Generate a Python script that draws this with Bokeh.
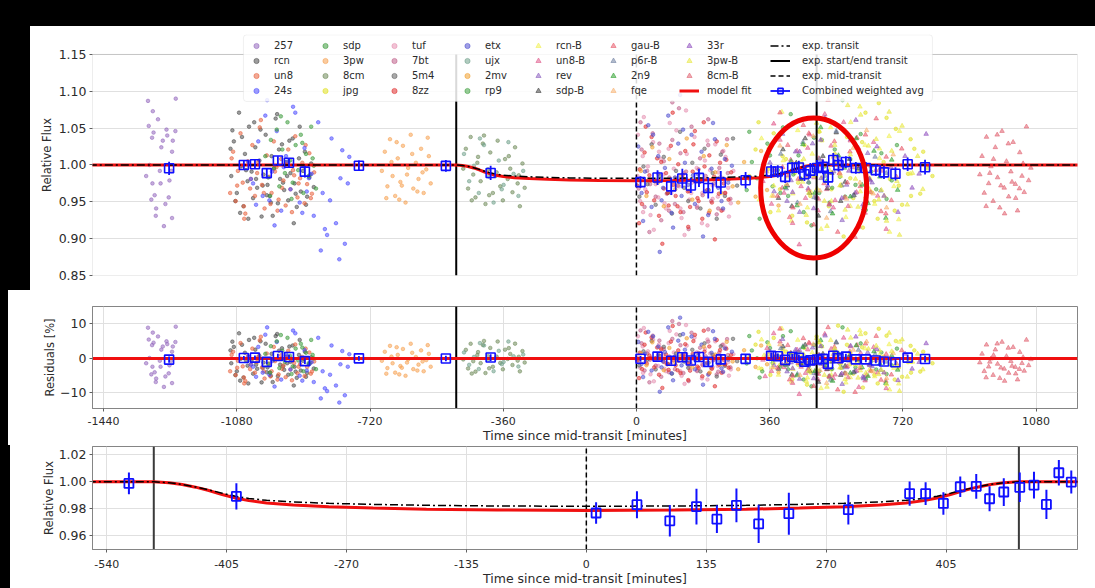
import numpy as np
from bokeh.plotting import figure
from bokeh.models import (Range1d, Legend, LegendItem, FixedTicker, NumeralTickFormatter,
                          BoxAnnotation)
from bokeh.layouts import column
from bokeh.embed import file_html
from bokeh.resources import INLINE

# ------------------------------------------------------------------ data
# individual observations: time since mid-transit [min], relative flux
t_257 = [-1320, -1245, -1307, -1293, -1318, -1270, -1246, -1305, -1309, -1280, -1253, -1284, -1255, -1325, -1308, -1286, -1262, -1257, -1302, -1311, -1264, -1273, -1298, -1299, -1255, -1277, -1288, -1268, -1316]
f_257 = [1.087, 1.090, 1.073, 1.062, 1.053, 1.048, 1.046, 1.044, 1.037, 1.033, 1.033, 1.024, 1.018, 0.985, 0.975, 0.975, 0.979, 0.992, 0.959, 0.953, 0.956, 0.947, 0.941, 0.931, 0.928, 0.917, 0.992, 1.040, 1.000]

t_rcn = [-1095, -1088, -1080, -1074, -1069, -1062, -1058, -1051, -1047, -1040, -1036, -1030, -1025, -1019, -1013, -1008, -1002, -997, -991, -986, -980, -975, -969, -963, -958, -952, -946, -941, -935, -929, -924, -918, -912, -907, -901, -896, -890, -884, -879, -872, -1092, -1071, -1055, -1033, -1010, -988, -966, -944, -921, -899,
         -1097, -1084, -1066, -1049, -1028, -1016, -999, -983, -971, -955, -938, -926, -910, -893, -881]
f_rcn = [0.985, 1.032, 0.962, 1.071, 0.998, 0.944, 1.015, 0.978, 1.052, 0.991, 0.955, 1.024, 0.969, 1.006, 0.930, 0.987, 1.041, 0.973, 0.958, 1.012, 0.995, 1.063, 0.948, 0.981, 1.028, 0.966, 1.004, 0.952, 0.989, 1.036, 0.975, 0.943, 1.009, 0.964, 0.992, 1.018, 0.957, 0.983, 1.002, 0.970, 1.047, 0.935, 0.993, 1.058, 0.972, 0.949, 1.021, 0.985, 0.961, 0.998,
         1.022, 0.951, 1.038, 0.927, 0.981, 1.048, 0.959, 0.931, 1.069, 0.976, 1.033, 0.921, 1.052, 0.946, 0.987]

t_un8 = [-1098, -1090, -1083, -1077, -1070, -1064, -1057, -1050, -1044, -1038, -1031, -1025, -1018, -1012, -1005, -999, -993, -986, -980, -973, -967, -960, -954, -948, -941, -935, -928, -922, -916, -909, -903, -897, -890, -884, -877, -871, -1060, -1015, -970, -925,
         -1094, -1079, -1061, -1042, -1022, -1007, -989, -977, -958, -944, -931, -913, -894, -880]
f_un8 = [0.962, 1.018, 0.951, 0.992, 1.043, 0.976, 0.934, 1.005, 0.968, 1.027, 0.958, 0.989, 1.051, 0.973, 0.941, 1.013, 0.984, 0.962, 1.032, 0.997, 0.953, 1.008, 0.979, 0.945, 1.021, 0.967, 0.993, 1.039, 0.956, 0.982, 1.003, 0.948, 0.974, 1.016, 0.961, 0.990, 0.927, 1.061, 0.938, 0.986,
         1.009, 0.972, 0.944, 0.981, 1.004, 0.962, 0.947, 0.991, 0.969, 1.002, 0.936, 0.975, 1.027, 0.955]

t_24s = [-1048, -1036, -1022, -1010, -998, -985, -972, -960, -947, -935, -922, -910, -897, -885, -872, -860, -848, -836, -824, -812, -800, -788, -776, -1028, -1003, -978, -953, -928, -903, -878, -853, -828, -803, -780, -1042, -992, -941, -891, -842, -795]
f_24s = [1.004, 0.975, 1.032, 0.958, 1.088, 0.991, 1.046, 0.938, 1.012, 0.967, 1.071, 0.949, 1.023, 0.982, 0.931, 1.058, 0.962, 0.905, 1.036, 0.921, 0.982, 0.893, 1.011, 0.946, 1.067, 0.918, 0.997, 1.079, 0.935, 0.988, 0.884, 0.952, 0.872, 0.975, 0.981, 0.952, 1.005, 0.964, 0.913, 1.020]

t_sdp = [-1003, -995, -988, -979, -972, -965, -957, -950, -943, -936, -929, -921, -914, -907, -900, -893, -886, -879, -872, -866, -961, -932, -903, -875, -990]
f_sdp = [1.012, 0.983, 1.034, 0.996, 1.048, 0.971, 1.021, 0.989, 1.058, 1.006, 0.976, 1.027, 0.993, 1.041, 0.962, 1.015, 0.985, 1.052, 0.999, 0.968, 1.066, 0.954, 1.030, 1.009, 0.958]

t_3pw = [-688, -680, -673, -666, -659, -652, -645, -638, -631, -624, -617, -610, -603, -596, -589, -582, -575, -568, -561, -556, -676, -648, -620, -592, -564, -662, -634, -606, -578, -641]
f_3pw = [0.992, 1.018, 0.971, 1.035, 0.985, 0.958, 1.009, 0.977, 1.026, 0.949, 0.996, 1.041, 0.968, 1.003, 0.981, 1.022, 0.962, 0.994, 1.012, 0.975, 0.955, 1.031, 0.987, 0.964, 1.037, 1.004, 0.972, 1.015, 0.990, 0.953]

t_8cm = [-468, -461, -455, -448, -441, -435, -428, -421, -415, -408, -401, -395, -388, -381, -375, -368, -361, -355, -348, -341, -335, -328, -321, -315, -308, -302, -445, -412, -378, -345, -318, -430, -398]
f_8cm = [0.995, 1.022, 0.968, 1.038, 0.987, 0.956, 1.011, 0.978, 1.029, 0.947, 0.994, 1.017, 0.962, 0.985, 1.033, 0.971, 0.952, 1.008, 0.981, 0.995, 0.963, 1.024, 0.975, 0.944, 1.002, 0.969, 0.952, 1.040, 0.990, 1.012, 0.986, 1.003, 0.959]

t_jpg = [305, 322, 338, 355, 371, 388, 404, 421, 437, 454, 470, 487, 503, 520, 536, 553, 569, 586, 602, 619, 635, 652, 668, 685, 701, 718, 734, 751, 767, 784, 612, 655, 698, 741, 560,
         330, 362, 395, 428, 461, 494, 527, 545, 578, 610, 643, 676, 709, 742, 775, 800]
f_jpg = [0.985, 1.021, 0.952, 0.994, 1.043, 0.967, 1.008, 0.931, 0.976, 1.027, 0.958, 1.062, 0.983, 0.944, 1.015, 0.972, 1.038, 0.955, 0.991, 1.071, 0.963, 0.927, 1.004, 0.981, 1.049, 0.946, 0.988, 1.022, 0.961, 0.997, 0.915, 1.084, 0.938, 1.035, 0.903,
         1.058, 0.936, 1.012, 0.989, 0.922, 1.045, 0.967, 1.093, 0.982, 1.031, 0.951, 1.064, 0.972, 0.958, 1.018, 0.985]

t_tuf = [3, 10, 17, 24, 31, 38, 45, 52, 59, 66, 73, 80, 87, 94, 101, 108, 115, 122, 129, 136, 143, 150, 157, 164, 171, 178, 185, 192, 199, 206, 213, 220, 227, 234, 241, 248, 255, 262, 20, 130,
         4, 18, 33, 47, 61, 76, 90, 105, 119, 134, 148, 163, 177, 192, 206, 221, 235, 250]
f_tuf = [0.985, 0.951, 1.012, 0.967, 0.998, 0.932, 1.031, 0.974, 0.956, 1.008, 0.987, 0.941, 1.022, 0.962, 0.995, 1.047, 0.971, 0.928, 0.989, 1.015, 0.953, 0.976, 1.038, 0.944, 0.981, 0.962, 1.006, 0.918, 0.993, 0.972, 1.028, 0.957, 0.984, 0.939, 1.011, 0.969, 0.948, 0.992, 1.065, 0.905,
         1.041, 0.936, 0.979, 0.912, 1.018, 0.948, 1.057, 0.983, 0.941, 1.074, 0.962, 0.996, 0.921, 1.033, 0.954, 0.990, 1.019, 0.930]

t_7bt = [6, 14, 22, 29, 37, 44, 52, 59, 67, 74, 82, 89, 97, 104, 112, 119, 127, 134, 142, 149, 157, 164, 172, 179, 187, 194, 202, 209, 217, 224, 232, 239, 247, 254, 97,
         11, 35, 62, 88, 115, 141, 168, 194, 221, 245]
f_7bt = [0.968, 1.021, 0.943, 0.992, 0.974, 1.043, 0.957, 0.988, 0.925, 1.005, 0.961, 0.983, 1.034, 0.947, 0.972, 1.016, 0.936, 0.991, 0.965, 1.052, 0.978, 0.942, 1.009, 0.959, 0.985, 1.027, 0.951, 0.975, 0.933, 0.996, 1.018, 0.962, 0.989, 0.954, 1.085,
         1.058, 0.909, 1.029, 0.938, 1.077, 0.913, 0.994, 1.062, 0.941, 1.035]

t_5m4 = [8, 19, 30, 41, 52, 63, 74, 85, 96, 107, 118, 129, 140, 151, 162, 173, 184, 195, 206, 217, 228, 239, 250, 261, 272]
f_5m4 = [0.957, 0.998, 0.974, 1.028, 0.946, 0.985, 1.011, 0.962, 0.934, 0.992, 1.045, 0.969, 0.951, 1.003, 0.978, 0.941, 1.022, 0.966, 0.989, 0.927, 1.014, 0.958, 0.981, 1.036, 0.972]

t_8zz = [2, 9, 15, 22, 28, 35, 41, 48, 54, 61, 67, 74, 80, 87, 93, 100, 106, 113, 119, 126, 132, 139, 145, 152, 158, 165, 171, 178, 184, 191, 197, 204, 210, 217, 223, 230, 236, 243, 249, 256,
         7, 25, 39, 56, 70, 84, 98, 111, 125, 140, 154, 168, 182, 196, 212, 226, 240]
f_8zz = [0.972, 0.994, 0.947, 1.017, 0.963, 0.986, 1.038, 0.952, 0.979, 0.931, 1.004, 0.968, 0.989, 0.945, 1.026, 0.973, 0.958, 1.001, 0.936, 0.982, 1.019, 0.964, 0.943, 0.991, 1.046, 0.955, 0.977, 0.927, 0.998, 0.966, 1.013, 0.949, 0.984, 1.032, 0.961, 0.938, 0.975, 1.007, 0.953, 0.990,
         0.921, 1.052, 0.979, 1.009, 0.893, 0.962, 1.071, 0.944, 0.987, 0.916, 1.028, 0.951, 1.058, 0.935, 0.899, 1.003, 0.962]

t_etx = [5, 14, 23, 32, 41, 50, 59, 68, 77, 86, 95, 104, 113, 122, 131, 140, 149, 158, 167, 176, 185, 194, 203, 212, 221, 230, 239, 248, 118, 63,
         18, 45, 72, 99, 126, 153, 180, 207, 234, 258]
f_etx = [1.025, 0.962, 0.991, 1.054, 0.943, 0.978, 1.012, 0.952, 0.996, 1.067, 0.935, 0.983, 1.029, 0.958, 1.003, 0.973, 1.041, 0.947, 0.987, 1.018, 0.964, 0.932, 0.995, 1.035, 0.969, 0.951, 1.008, 0.976, 1.095, 0.882,
         0.924, 1.041, 0.969, 0.915, 1.048, 0.986, 0.903, 1.057, 0.941, 0.999]

t_ujx = [-466, -452, -439, -426, -412, -399, -386, -372, -359, -346, -332, -319, -306, -423, -364]
f_ujx = [1.015, 0.978, 0.999, 0.962, 1.027, 0.984, 0.949, 1.006, 0.973, 1.031, 0.988, 0.958, 0.992, 1.036, 0.967]

t_2mv = [12, 27, 43, 58, 74, 89, 105, 120, 136, 151, 167, 182, 198, 213, 229, 244, 260, 275, 291, 306, 322, 337, 353, 368, 384]
f_2mv = [0.992, 0.958, 1.024, 0.976, 0.944, 1.008, 0.967, 0.985, 1.036, 0.953, 0.979, 1.012, 0.938, 0.990, 0.962, 1.027, 0.971, 0.949, 1.004, 0.981, 0.957, 1.019, 0.966, 0.993, 0.945]

t_rp9 = [298, 312, 326, 340, 354, 368, 382, 396, 410, 424, 438, 452, 466, 480, 494, 508, 522, 536, 550, 564, 578, 592, 606, 620, 634, 648, 662, 676, 690, 704,
         305, 333, 361, 389, 417, 445, 473, 501, 529, 557]
f_rp9 = [0.966, 1.004, 0.982, 0.945, 1.029, 0.971, 0.993, 1.051, 0.958, 0.987, 1.013, 0.936, 0.976, 1.037, 0.962, 0.998, 0.949, 1.021, 0.984, 0.957, 1.008, 0.973, 1.042, 0.939, 0.991, 0.967, 1.016, 0.954, 0.979, 1.027,
         1.045, 0.927, 1.013, 0.962, 1.069, 0.981, 0.918, 1.034, 0.969, 1.088]

t_rcnB = [332, 345, 358, 371, 384, 397, 410, 423, 436, 449, 462, 475, 488, 501, 514, 527, 540, 553, 566, 579, 592, 605, 618, 631, 644, 657, 670, 683, 696, 709,
          338, 366, 393, 419, 446, 472, 499, 525, 552, 578, 604, 630, 657, 684, 711, 740]
f_rcnB = [0.953, 0.991, 1.024, 0.972, 0.938, 1.006, 0.984, 0.961, 1.047, 0.977, 0.942, 1.015, 0.968, 1.033, 0.989, 0.951, 1.012, 0.973, 0.929, 1.058, 0.996, 0.964, 1.027, 0.982, 0.947, 1.009, 0.958, 1.039, 0.971, 0.926,
          1.036, 0.958, 1.072, 0.924, 1.004, 0.963, 0.913, 1.051, 0.985, 0.944, 1.079, 0.967, 1.022, 0.909, 1.046, 0.988]

t_un8B = [342, 353, 365, 376, 388, 399, 411, 422, 434, 445, 457, 468, 480, 491, 503, 514, 526, 537, 549, 560, 572, 583, 595, 606, 618, 629, 641, 652, 664, 675,
          348, 371, 394, 417, 440, 463, 486, 509, 532, 555, 578, 601]
f_un8B = [0.978, 1.012, 0.947, 0.993, 1.034, 0.962, 0.986, 0.921, 1.019, 0.971, 0.955, 1.041, 0.983, 0.938, 1.005, 0.967, 1.026, 0.952, 0.989, 1.058, 0.944, 0.997, 0.963, 1.014, 0.935, 0.981, 1.031, 0.958, 0.992, 0.913,
          0.931, 1.056, 0.969, 1.007, 0.892, 1.023, 0.957, 1.069, 0.942, 0.998, 1.033, 0.916]

t_rev = [361, 372, 384, 395, 407, 418, 430, 441, 453, 464, 476, 487, 499, 510, 522, 533, 545, 556, 568, 579, 591, 602, 614, 625, 637]
f_rev = [1.003, 0.964, 0.987, 1.042, 0.951, 0.979, 1.018, 0.936, 0.994, 0.968, 1.029, 0.955, 0.982, 1.064, 0.946, 0.991, 1.011, 0.925, 0.973, 1.035, 0.962, 0.998, 0.941, 1.016, 0.976]

t_sdpB = [372, 384, 396, 408, 420, 432, 444, 456, 468, 480, 492, 504, 516, 528, 540, 552, 564, 576, 588, 600]
f_sdpB = [0.986, 0.955, 1.021, 0.972, 0.944, 1.003, 0.981, 1.036, 0.962, 0.993, 0.931, 1.012, 0.968, 0.989, 1.044, 0.951, 0.977, 1.008, 0.959, 0.995]

t_gauB = [381, 395, 409, 423, 437, 451, 465, 479, 493, 507, 521, 535, 549, 563, 577, 591, 605, 619, 633, 647, 661, 675, 689, 703, 717,
          388, 414, 440, 466, 492, 518, 544, 570, 596, 622, 648, 674]
f_gauB = [0.958, 0.997, 1.027, 0.942, 0.981, 1.054, 0.966, 0.919, 1.009, 0.975, 0.947, 1.032, 0.989, 0.956, 1.018, 0.902, 0.971, 1.041, 0.963, 0.993, 0.937, 1.011, 0.952, 0.984, 1.022,
          1.071, 0.929, 0.996, 1.043, 0.954, 1.088, 0.909, 0.976, 1.037, 0.951, 1.063, 0.934]

t_p6rB = [390, 405, 420, 435, 450, 465, 480, 495, 510, 525, 540, 555, 570, 585, 600, 615, 630, 645, 660, 675]
f_p6rB = [1.015, 0.968, 0.993, 0.949, 1.031, 0.977, 0.956, 1.008, 0.985, 0.937, 1.046, 0.972, 0.999, 0.958, 1.023, 0.944, 0.981, 1.011, 0.965, 0.989]

t_2n9 = [402, 418, 434, 450, 466, 482, 498, 514, 530, 546, 562, 578, 594, 610, 626, 642, 658, 674, 690, 706]
f_2n9 = [0.970, 1.005, 0.945, 1.028, 0.987, 0.962, 1.051, 0.978, 0.934, 1.013, 0.996, 0.957, 1.036, 0.973, 0.948, 1.019, 0.984, 0.928, 1.007, 0.966]

t_fqe = [352, 370, 388, 406, 424, 442, 460, 478, 496, 514, 532, 550, 568, 586, 604, 622, 640, 658, 676, 694]
f_fqe = [0.991, 0.958, 1.026, 0.974, 1.002, 0.947, 0.983, 1.039, 0.965, 0.928, 1.011, 0.988, 0.954, 1.023, 0.976, 1.047, 0.961, 0.995, 0.942, 1.014]

t_33r = [422, 441, 460, 479, 498, 517, 536, 555, 574, 593, 612, 631, 650, 669, 688, 707, 726, 745, 764, 783]
f_33r = [0.963, 1.018, 0.985, 0.941, 1.034, 0.972, 1.004, 0.955, 0.992, 1.061, 0.946, 0.979, 1.025, 0.958, 0.997, 0.936, 1.012, 0.969, 0.988, 1.042]

t_3pwB = [452, 466, 480, 494, 508, 522, 536, 550, 564, 578, 592, 606, 620, 634, 648, 662, 676, 690, 704, 718, 732, 746, 760, 774, 788,
          459, 487, 515, 543, 571, 599, 627, 655, 683, 711]
f_3pwB = [1.008, 0.962, 0.985, 1.046, 0.951, 0.993, 1.027, 0.972, 0.939, 1.014, 0.981, 1.068, 0.957, 0.998, 1.035, 0.966, 0.924, 1.019, 0.978, 1.053, 0.946, 0.989, 1.012, 0.967, 0.995,
          0.932, 1.057, 0.917, 1.004, 1.081, 0.943, 1.026, 0.953, 1.072, 0.905]

t_8cmB = [928, 934, 940, 946, 952, 958, 964, 970, 976, 982, 988, 994, 1000, 1006, 1012, 1018, 1024, 1030, 1036, 1042, 1048, 1054, 1060, 1066, 945, 965, 985, 1005, 1025, 1045, 955, 995, 1035, 975, 1015]
f_8cmB = [0.987, 1.012, 0.962, 1.038, 0.975, 0.998, 0.951, 1.024, 0.983, 0.942, 1.046, 0.969, 1.005, 0.957, 0.991, 1.031, 0.974, 0.938, 1.017, 0.985, 0.963, 1.052, 0.979, 0.996, 0.944, 1.008, 0.972, 1.029, 0.955, 1.002, 0.989, 0.934, 0.968, 1.041, 0.977]

# combined weighted average
avg_t = [-1263, -1061, -1031, -999, -969, -939, -896, -750, -515, -394,
         11, 57, 94, 124, 147, 169, 194, 228, 295,
         364, 382, 402, 421, 439, 454, 470, 488, 504, 518, 532, 546,
         566, 593, 620, 647, 669, 700, 733, 780]
avg_f = [0.9955, 1.000, 1.001, 0.989, 1.006, 1.003, 0.991, 0.999, 0.9988, 0.9892,
         0.9768, 0.983, 0.971, 0.9816, 0.9722, 0.9825, 0.9687, 0.9763, 0.9793,
         0.9912, 0.9912, 0.9839, 0.9963, 0.9966, 0.9874, 0.9924, 0.9959, 0.9975, 0.9832, 1.0067, 0.9998,
         1.004, 0.996, 0.996, 0.993, 0.990, 0.988, 1.001, 0.997]
avg_e = [0.009, 0.006, 0.006, 0.007, 0.006, 0.006, 0.008, 0.007, 0.008, 0.0097,
         0.008, 0.010, 0.0117, 0.0133, 0.0103, 0.0125, 0.0142, 0.0156, 0.0111,
         0.009, 0.0084, 0.0084, 0.0077, 0.0092, 0.0092, 0.0103, 0.011, 0.010, 0.0108, 0.0094, 0.0086,
         0.008, 0.008, 0.008, 0.008, 0.009, 0.009, 0.009, 0.010]

# model fit and expected transit curves
model_t = [-1480, -487, -470, -455, -440, -425, -410, -395, -380, -360, -330, -290, -240, -180, -100, 0,
           100, 180, 240, 290, 330, 360, 380, 395, 410, 425, 440, 455, 470, 487, 1210]
model_f = [1.0, 1.0, 0.9993, 0.998, 0.996, 0.9935, 0.9905, 0.988, 0.986, 0.9843, 0.9828, 0.9815, 0.9805, 0.9796, 0.979, 0.9787,
           0.979, 0.9796, 0.9805, 0.9815, 0.9828, 0.9843, 0.986, 0.988, 0.9905, 0.9935, 0.996, 0.998, 0.9993, 1.0, 1.0]
exp_f = [1.0, 1.0, 0.9993, 0.998, 0.9962, 0.994, 0.9915, 0.9893, 0.9876, 0.9862, 0.985, 0.984, 0.9832, 0.9825, 0.982, 0.9818,
         0.982, 0.9825, 0.9832, 0.984, 0.985, 0.9862, 0.9876, 0.9893, 0.9915, 0.994, 0.9962, 0.998, 0.9993, 1.0, 1.0]

T_START, T_MID, T_END = -487, 0, 487

xticks_main = [-1440, -1080, -720, -360, 0, 360, 720, 1080]
xticks_zoom = [-540, -405, -270, -135, 0, 135, 270, 405]
yticks_flux = [0.85, 0.90, 0.95, 1.00, 1.05, 1.10, 1.15]
yticks_res = [-10, 0, 10]
yticks_zoom = [0.96, 0.98, 1.00, 1.02]

# ------------------------------------------------------------------ layout / style constants
FONT = "DejaVu Sans"
TXT = "#2b2b2b"
BLUE = "#1010ff"
RED = "#f01010"
FRAME = "#858585"

X_MAIN = (-1470, 1192)
Y_TOP_AX = (0.85, 1.15)          # visible axes box of the top panel
Y_TOP = (0.85, 1.1771)           # frame extended upward so the legend fits
Y_RES = (-14.5, 14.8)
X_ZOOM = (-556, 553)
Y_ZOOM = (0.9497, 1.0262)

LEG_BOX = (-1062, 800, 1.0862, 1.1766)   # legend frame (left, right, bottom, top)
HL_T, HL_F, HL_W, HL_H = 479, 0.9688, 106, 140   # highlight ellipse

SERIES = [
    ("257", t_257, f_257, "#9467bd", "circle"),
    ("rcn", t_rcn, f_rcn, "#4a4a4a", "circle"),
    ("un8", t_un8, f_un8, "#e8603c", "circle"),
    ("24s", t_24s, f_24s, "#4a4aff", "circle"),
    ("sdp", t_sdp, f_sdp, "#3c9a3c", "circle"),
    ("3pw", t_3pw, f_3pw, "#f5a050", "circle"),
    ("8cm", t_8cm, f_8cm, "#6f8a5a", "circle"),
    ("jpg", t_jpg, f_jpg, "#e0e020", "circle"),
    ("tuf", t_tuf, f_tuf, "#e58fb0", "circle"),
    ("7bt", t_7bt, f_7bt, "#c0608a", "circle"),
    ("5m4", t_5m4, f_5m4, "#606060", "circle"),
    ("8zz", t_8zz, f_8zz, "#e03030", "circle"),
    ("etx", t_etx, f_etx, "#5050d0", "circle"),
    ("ujx", t_ujx, f_ujx, "#6fa08a", "circle"),
    ("2mv", t_2mv, f_2mv, "#f0a030", "circle"),
    ("rp9", t_rp9, f_rp9, "#40a040", "circle"),
    ("rcn-B", t_rcnB, f_rcnB, "#f0f050", "triangle"),
    ("un8-B", t_un8B, f_un8B, "#e05a8a", "triangle"),
    ("rev", t_rev, f_rev, "#8a5fc0", "triangle"),
    ("sdp-B", t_sdpB, f_sdpB, "#404040", "triangle"),
    ("gau-B", t_gauB, f_gauB, "#e85a6a", "triangle"),
    ("p6r-B", t_p6rB, f_p6rB, "#7080a0", "triangle"),
    ("2n9", t_2n9, f_2n9, "#30a030", "triangle"),
    ("fqe", t_fqe, f_fqe, "#f8b070", "triangle"),
    ("33r", t_33r, f_33r, "#9050c0", "triangle"),
    ("3pw-B", t_3pwB, f_3pwB, "#e8e840", "triangle"),
    ("8cm-B", t_8cmB, f_8cmB, "#e06070", "triangle"),
]


def make_fig(height, xr, yr, top, bottom):
    p = figure(width=1095, height=height, x_range=Range1d(*xr), y_range=Range1d(*yr),
               output_backend="svg", toolbar_location=None,
               min_border_left=92, min_border_right=18, min_border_top=top, min_border_bottom=bottom)
    p.outline_line_color = FRAME
    p.outline_line_width = 1
    p.background_fill_color = "white"
    p.border_fill_color = None
    p.grid.grid_line_color = "#e0e0e0"
    p.grid.grid_line_width = 1
    for ax in p.axis:
        ax.axis_line_color = FRAME
        ax.major_tick_line_color = "#606060"
        ax.major_tick_out = 3
        ax.major_tick_in = 0
        ax.major_label_standoff = 3
        ax.minor_tick_line_color = None
        ax.major_label_text_font = FONT
        ax.major_label_text_color = TXT
        ax.axis_label_text_font = FONT
        ax.axis_label_text_color = TXT
        ax.axis_label_text_font_style = "normal"
    return p


def vlines(p, yr, color):
    r_se = p.segment(x0=[T_START, T_END], y0=yr[0], x1=[T_START, T_END], y1=yr[1],
                     line_color=color, line_width=2)
    r_mid = p.segment(x0=[T_MID], y0=yr[0], x1=[T_MID], y1=yr[1],
                      line_color="black", line_width=1.5, line_dash="5 3")
    return r_se, r_mid


mt = np.array(model_t, dtype=float)
mf = np.array(model_f, dtype=float)
ef = np.array(exp_f, dtype=float)
at = np.array(avg_t, dtype=float)
af = np.array(avg_f, dtype=float)
ae = np.array(avg_e, dtype=float)
a_res = (af - np.interp(at, mt, mf)) * 100
ae_res = ae * 100

# ------------------------------------------------------------------ top panel
p1 = make_fig(290, X_MAIN, Y_TOP, 34, 15)
p1.outline_line_color = None
p1.xaxis.visible = False
p1.xgrid.visible = False
p1.yaxis.axis_line_color = None
p1.yaxis.ticker = FixedTicker(ticks=yticks_flux)
p1.yaxis.formatter = NumeralTickFormatter(format="0.00")
p1.yaxis.axis_label = "Relative Flux"
p1.yaxis.axis_label_text_font_size = "11.5px"
p1.yaxis.major_label_text_font_size = "12.5px"
p1.yaxis.axis_label_standoff = 2
p1.add_layout(BoxAnnotation(left=X_MAIN[0], right=X_MAIN[1], bottom=Y_TOP_AX[0], top=Y_TOP_AX[1],
                            fill_alpha=0, line_color=FRAME, line_width=1, level="underlay"))

# middle panel
p2 = make_fig(155, X_MAIN, Y_RES, 16, 29)
p2.xaxis.ticker = FixedTicker(ticks=xticks_main)
p2.xaxis.major_label_overrides = {v: str(v) for v in xticks_main}
p2.yaxis.ticker = FixedTicker(ticks=yticks_res)
p2.yaxis.major_label_overrides = {-10: "\u221210", 0: "0", 10: "10"}
p2.yaxis.axis_label = "Residuals [%]"
p2.xaxis.axis_label = "Time since mid-transit [minutes]"
p2.yaxis.axis_label_text_font_size = "11.5px"
p2.xaxis.axis_label_text_font_size = "12.5px"
p2.yaxis.major_label_text_font_size = "12.5px"
p2.xaxis.major_label_text_font_size = "11px"
p2.xaxis.major_label_standoff = 5
p2.xaxis.axis_label_standoff = 0
p2.yaxis.axis_label_standoff = 0

# bottom panel
p3 = make_fig(143, X_ZOOM, Y_ZOOM, 1, 31)
p3.xaxis.ticker = FixedTicker(ticks=xticks_zoom)
p3.xaxis.major_label_overrides = {v: str(v) for v in xticks_zoom}
p3.yaxis.ticker = FixedTicker(ticks=yticks_zoom)
p3.yaxis.formatter = NumeralTickFormatter(format="0.00")
p3.yaxis.axis_label = "Relative Flux"
p3.xaxis.axis_label = "Time since mid-transit [minutes]"
p3.yaxis.axis_label_text_font_size = "11.5px"
p3.xaxis.axis_label_text_font_size = "12.5px"
p3.yaxis.major_label_text_font_size = "12.5px"
p3.xaxis.major_label_text_font_size = "11px"
p3.xaxis.major_label_standoff = 7
p3.xaxis.axis_label_standoff = 0
p3.yaxis.axis_label_standoff = 0

# ------------------------------------------------------------------ glyphs
items = []
for name, tt, ff, col, mk in SERIES:
    n = min(len(tt), len(ff))
    t = np.array(tt[:n], dtype=float)
    f = np.array(ff[:n], dtype=float)
    sz = 3.6 if mk == "circle" else 4.6
    r = p1.scatter(t, f, marker=mk, size=sz, fill_color=col, line_color=col,
                   fill_alpha=0.55, line_alpha=0.55)
    items.append(LegendItem(label=name, renderers=[r]))
    res = (f - np.interp(t, mt, mf)) * 100
    p2.scatter(t, res, marker=mk, size=sz, fill_color=col, line_color=col,
               fill_alpha=0.55, line_alpha=0.55)

r_se, r_mid = vlines(p1, Y_TOP_AX, "black")
vlines(p2, Y_RES, "black")
vlines(p3, Y_ZOOM, "#3a3a3a")

# model fit
r_model = p1.line(mt, mf, line_color=RED, line_width=3)
p3.line(mt, mf, line_color=RED, line_width=3)
p2.hspan(y=[0], line_color=RED, line_width=3)

# expected transit
r_exp = p1.line(mt, ef, line_color="black", line_width=1.5, line_dash="8 3 2 3")
p3.line(mt, ef, line_color="black", line_width=1.5, line_dash="8 3 2 3")

# combined weighted average
r_eb = p1.segment(x0=at, y0=af - ae, x1=at, y1=af + ae, line_color=BLUE, line_width=1.8)
r_sq = p1.scatter(at, af, marker="square", size=9, line_color=BLUE, line_width=1.6, fill_color=None)
p2.segment(x0=at, y0=a_res - ae_res, x1=at, y1=a_res + ae_res, line_color=BLUE, line_width=1.8)
p2.scatter(at, a_res, marker="square", size=9, line_color=BLUE, line_width=1.6, fill_color=None)
p3.segment(x0=at, y0=af - ae, x1=at, y1=af + ae, line_color=BLUE, line_width=2)
p3.scatter(at, af, marker="square", size=9, line_color=BLUE, line_width=1.8, fill_color=None)

items.append(LegendItem(label="model fit", renderers=[r_model]))
items.append(LegendItem(label="exp. transit", renderers=[r_exp]))
items.append(LegendItem(label="exp. start/end transit", renderers=[r_se]))
items.append(LegendItem(label="exp. mid-transit", renderers=[r_mid]))
items.append(LegendItem(label="Combined weighted avg", renderers=[r_eb, r_sq]))

# legend frame + one legend per column (matplotlib-like column spacing)
p1.add_layout(BoxAnnotation(left=LEG_BOX[0], right=LEG_BOX[1], bottom=LEG_BOX[2], top=LEG_BOX[3],
                            fill_color="white", fill_alpha=0.85, line_color="#cccccc",
                            line_width=1, border_radius=3))
col_x = [154, 223, 292, 365, 436, 511, 587, 678]
for ci, x0 in enumerate(col_x):
    leg = Legend(items=items[ci * 4:(ci + 1) * 4], location=(x0, 178), orientation="vertical",
                 label_text_font=FONT, label_text_font_size="10px", label_text_color=TXT,
                 glyph_width=20, glyph_height=13, label_height=13,
                 label_standoff=12 if ci == 7 else 8,
                 spacing=2, padding=0, margin=0,
                 border_line_color=None, background_fill_alpha=0)
    p1.add_layout(leg)

# highlight
p1.ellipse(x=[HL_T], y=[HL_F], width=HL_W, height=HL_H, width_units="screen",
           height_units="screen", fill_color=None, line_color="#ee0000", line_width=5)

BG = ("linear-gradient(#000,#000) 0px 0px / 1095px 26px no-repeat, "
      "linear-gradient(#000,#000) 0px 0px / 30px 290px no-repeat, "
      "linear-gradient(#000,#000) 0px 290px / 8px 155px no-repeat, "
      "linear-gradient(#000,#000) 0px 445px / 10px 143px no-repeat, #ffffff")
layout = column(p1, p2, p3, styles={"background": BG})
open("out.html", "w").write(file_html(layout, INLINE))
